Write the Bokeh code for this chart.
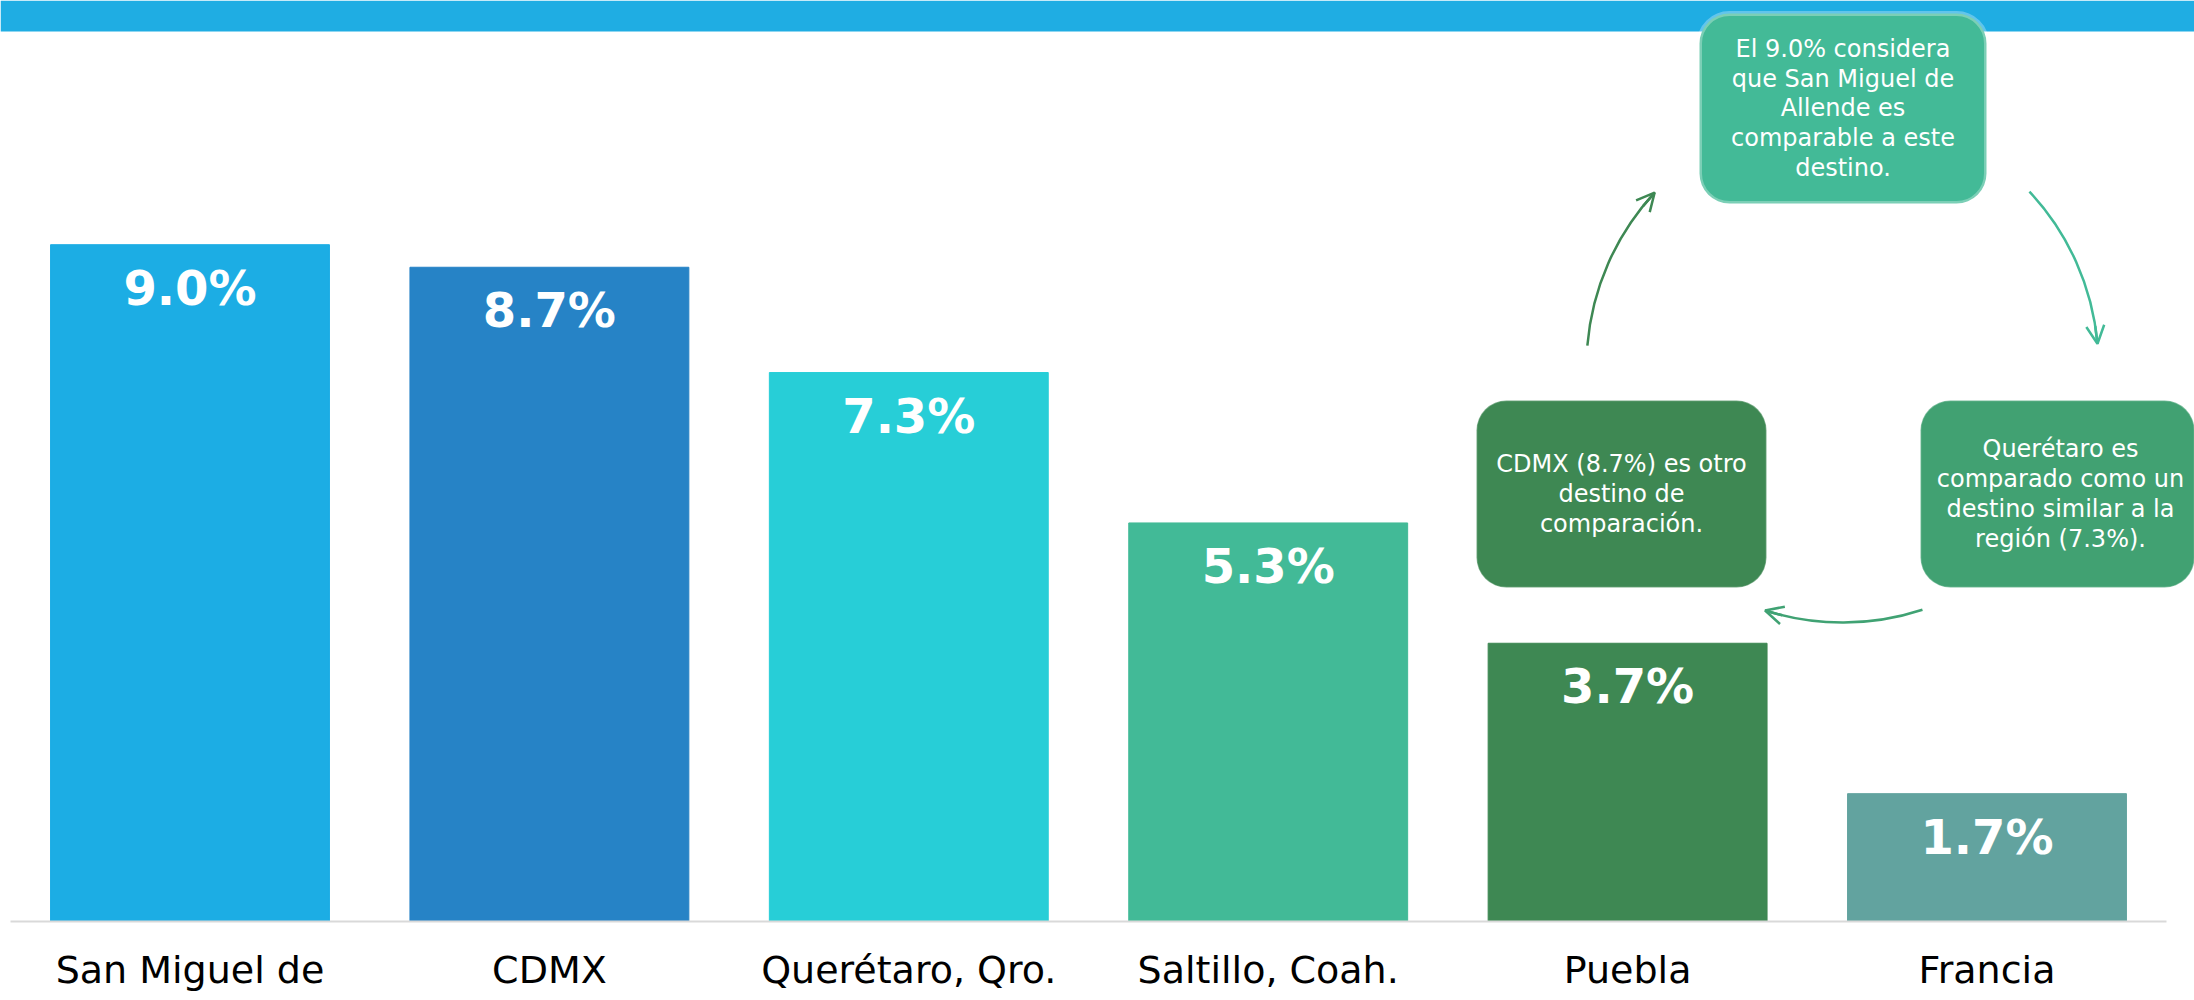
import math
from bokeh.plotting import figure
from bokeh.models import Range1d, BoxAnnotation, Arrow, OpenHead, ColumnDataSource
from bokeh.core.properties import value
from bokeh.embed import file_html
from bokeh.resources import INLINE

# ---------------- data ----------------
categories = ["San Miguel de", "CDMX", "Querétaro, Qro.", "Saltillo, Coah.", "Puebla", "Francia"]
values = [9.0, 8.7, 7.3, 5.3, 3.7, 1.7]
bar_colors = ["#1CADE4", "#2683C6", "#27CED7", "#42BA97", "#3E8853", "#62A39F"]

callout_texts = [
    "El 9.0% considera\nque San Miguel de\nAllende es\ncomparable a este\ndestino.",
    "CDMX (8.7%) es otro\ndestino de\ncomparación.",
    "Querétaro es\ncomparado como un\ndestino similar a la\nregión (7.3%).",
]
callout_colors = ["#43BA97", "#3E8853", "#41A172"]

# ---------------- layout helpers (pixel -> data) ----------------
W, H = 2194, 1000
X_STEP = 359.4          # px per category
X0 = 189.5              # px of first category centre
Y_PER = 75.2            # px per 1 %
BASE = 921              # px of zero line


def dx(sx):
    return (sx - X0) / X_STEP


def dy(sy):
    return (BASE - sy) / Y_PER


p = figure(width=W, height=H, x_range=Range1d(dx(0), dx(W)),
           y_range=Range1d(dy(H), dy(0)),
           x_axis_type=None, y_axis_type=None,
           toolbar_location=None, output_backend="svg",
           min_border=0, outline_line_color=None, background_fill_color="white")
p.xgrid.visible = False
p.ygrid.visible = False

# top banner
p.add_layout(BoxAnnotation(bottom=dy(31), fill_color="#1FADE3", fill_alpha=1,
                           line_alpha=0, level="underlay"))

# bars
idx = list(range(len(categories)))
src = ColumnDataSource(dict(x=idx, top=values, color=bar_colors,
                            lab=[f"{v:.1f}%" for v in values],
                            cat=categories, zero=[0] * len(values)))
p.vbar(x="x", top="top", width=0.776, color="color", source=src)

# baseline
p.segment(x0=[dx(10)], y0=[0], x1=[dx(2166)], y1=[0], line_color="#D9D9D9", line_width=2)

# value labels
p.text(x="x", y="top", text="lab", source=src, text_color="white",
       text_font=value("DejaVu Sans"), text_font_style="bold", text_font_size="48px",
       text_align="center", text_baseline="alphabetic", y_offset=43)

# category labels
p.text(x="x", y="zero", text="cat", source=src, text_color="black",
       text_font=value("DejaVu Sans"), text_font_size="38px",
       text_align="center", text_baseline="alphabetic", y_offset=48)

# callout boxes (left, right, top, bottom in px)
boxes = [(1699, 1986, 13, 203), (1476, 1766, 400, 587), (1920, 2194, 400, 587)]
for i, (l, r, t, b) in enumerate(boxes):
    p.add_layout(BoxAnnotation(left=dx(l), right=dx(r), top=dy(t), bottom=dy(b),
                               fill_color=callout_colors[i], fill_alpha=1,
                               line_color="white", line_width=5 if i == 0 else 1.5,
                               border_radius=30, level="underlay"))
tx = [(l + r) / 2 for (l, r, t, b) in boxes]
ty = [(t + b) / 2 for (l, r, t, b) in boxes]
tx[2] = 2060
p.text(x=[dx(v) for v in tx], y=[dy(v) for v in ty], text=callout_texts,
       text_color="white", text_font=value("DejaVu Sans"), text_font_size="24px",
       text_align="center", text_baseline="middle", text_line_height=1.07)

# cycle arrows on a circle
CX, CY, R = 1842, 366, 256
arcs = [(137.2, 175.3, "#3E8853"), (5.1, 43.1, "#42BA97"), (252.4, 288.2, "#40A273")]
for a0, a1, col in arcs:
    p.arc(x=[dx(CX)], y=[dy(CY)], radius=R, radius_units="screen",
          start_angle=a0, end_angle=a1, start_angle_units="deg", end_angle_units="deg",
          line_color=col, line_width=2.5)
    tip = (CX + R * math.cos(math.radians(a0)), CY - R * math.sin(math.radians(a0)))
    back = (CX + R * math.cos(math.radians(a0 + 4)), CY - R * math.sin(math.radians(a0 + 4)))
    p.add_layout(Arrow(end=OpenHead(size=18, line_color=col, line_width=2.5),
                       x_start=dx(back[0]), y_start=dy(back[1]),
                       x_end=dx(tip[0]), y_end=dy(tip[1]),
                       line_color=col, line_width=2.5))

open("out.html", "w").write(file_html(p, INLINE))
